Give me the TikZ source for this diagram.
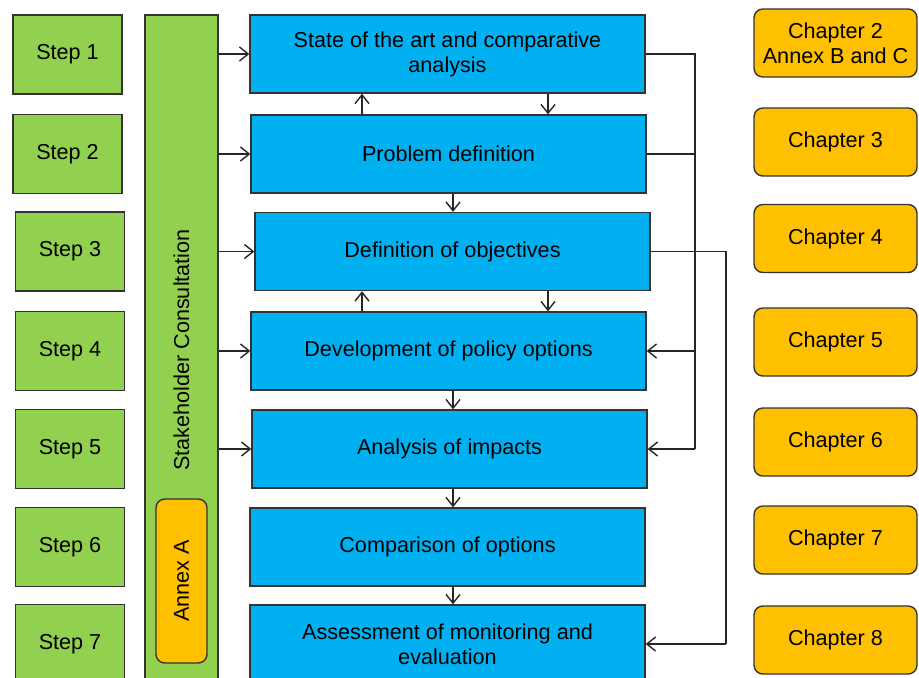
\documentclass[tikz,border=0pt]{standalone}
\usepackage{fontspec}
\setmainfont{Liberation Sans}
\usetikzlibrary{arrows.meta}
\definecolor{stepgreen}{HTML}{92D050}
\definecolor{phaseblue}{HTML}{00B0F0}
\definecolor{chapamber}{HTML}{FFC000}
\begin{document}
\begin{tikzpicture}[x=0.02cm, y=-0.02cm,
    every node/.style={font=\fontsize{12.3}{14.2}\selectfont, inner sep=0pt},
    stepbox/.style={draw=black!80, line width=0.8pt, fill=stepgreen, minimum width=2.18cm, minimum height=1.58cm},
    column/.style={draw=black!80, line width=0.8pt, fill=stepgreen, minimum width=1.46cm, minimum height=13.5cm},
    annex/.style={draw=black!80, line width=0.8pt, fill=chapamber, rounded corners=5pt, minimum width=3.28cm, minimum height=1.02cm},
    phase/.style={draw=black!80, line width=0.8pt, fill=phaseblue, minimum width=7.9cm, minimum height=1.56cm, align=center},
    chapter/.style={draw=black!80, line width=0.8pt, fill=chapamber, rounded corners=5pt, minimum width=3.26cm, minimum height=1.36cm, align=center},
    arr/.style={-{Straight Barb[length=5pt,width=8pt]}, line width=0.8pt, draw=black!85},
    link/.style={line width=0.8pt, draw=black!85}]
      \useasboundingbox (0,0) rectangle (919,677);
      \clip (0,0) rectangle (919,677);

      \foreach \n/\x/\y in {1/67.5/54.5, 2/67.5/154, 3/70/251.5, 4/70/351, 5/70/449, 6/70/547, 7/70/644} {
        \node[stepbox] (step\n) at (\x, \y) {Step \n};
      }

      \node[column] (stake) at (181.5, 352.5) {};
      \node[rotate=90] (stakelabel) at (181.5, 350) {Stakeholder Consultation};
      \node[annex, rotate=90] (annexA) at (181.5, 581) {Annex A};

      \node[phase] (box1) at (447.5, 54) {State of the art and comparative\\analysis};
      \node[phase] (box2) at (448.5, 154) {Problem definition};
      \node[phase] (box3) at (452.5, 251.5) {Definition of objectives};
      \node[phase] (box4) at (448.5, 351) {Development of policy options};
      \node[phase] (box5) at (449.5, 449) {Analysis of impacts};
      \node[phase] (box6) at (447.5, 547) {Comparison of options};
      \node[phase] (box7) at (447.5, 644) {Assessment of monitoring and\\evaluation};

      \foreach \n/\y/\t in {1/43/{Chapter 2\\Annex B and C}, 2/142/{Chapter 3}, 3/238.5/{Chapter 4},
                            4/342/{Chapter 5}, 5/442/{Chapter 6}, 6/540/{Chapter 7}, 7/640/{Chapter 8}} {
        \node[chapter] (chap\n) at (835.5, \y) {\t};
      }

      \foreach \n in {1,...,5} {
        \draw[arr] (stake.east |- box\n.west) -- (box\n.west);
      }

      \coordinate (xup) at (362, 0);
      \coordinate (xdn) at (548, 0);
      \coordinate (xmid) at (453, 0);
      \coordinate (trunk) at (695, 0);
      \coordinate (trunkb) at (726, 0);

      \draw[arr] (xup |- box2.north) -- (xup |- box1.south);
      \draw[arr] (xdn |- box1.south) -- (xdn |- box2.north);
      \draw[arr] (xmid |- box2.south) -- (xmid |- box3.north);
      \draw[arr] (xup |- box4.north) -- (xup |- box3.south);
      \draw[arr] (xdn |- box3.south) -- (xdn |- box4.north);
      \draw[arr] (xmid |- box4.south) -- (xmid |- box5.north);
      \draw[arr] (xmid |- box5.south) -- (xmid |- box6.north);
      \draw[arr] (xmid |- box6.south) -- (xmid |- box7.north);

      \draw[link] (box1.east) -- (trunk |- box1.east) -- (trunk |- box5.east);
      \draw[link] (box2.east) -- (trunk |- box2.east);
      \draw[arr] (trunk |- box4.east) -- (box4.east);
      \draw[arr] (trunk |- box5.east) -- (box5.east);
      \draw[link] (box3.east) -- (trunkb |- box3.east) -- (trunkb |- box7.east);
      \draw[arr] (trunkb |- box7.east) -- (box7.east);
    \end{tikzpicture}
\end{document}
